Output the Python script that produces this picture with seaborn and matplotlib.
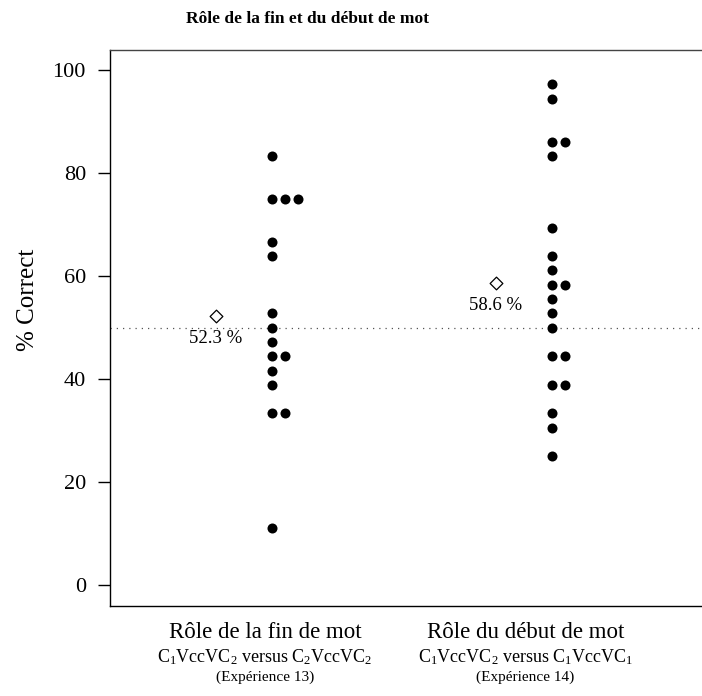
import numpy as np
import pandas as pd
import matplotlib
matplotlib.use("Agg")
import matplotlib.pyplot as plt
import seaborn as sns

# ---- data ----
group_names = ["fin", "debut"]
group_positions = [1.0, 2.0]
fin_values = [83.33, 75.0, 75.0, 75.0, 66.67, 63.89, 52.78, 50.0, 47.22,
              44.44, 44.44, 41.67, 38.89, 33.33, 33.33, 11.11]
debut_values = [97.22, 94.44, 86.11, 86.11, 83.33, 69.44, 63.89, 61.11, 58.33,
                58.33, 55.56, 52.78, 50.0, 44.44, 44.44, 38.89, 38.89, 33.33,
                30.56, 25.0]
cat_line1 = ["Rôle de la fin de mot", "Rôle du début de mot"]
cat_line2 = [r"$\mathrm{C_1VccVC_2}$ versus $\mathrm{C_2VccVC_2}$",
             r"$\mathrm{C_1VccVC_2}$ versus $\mathrm{C_1VccVC_1}$"]
cat_line3 = ["(Expérience 13)", "(Expérience 14)"]
y_ticks = [0, 20, 40, 60, 80, 100]
title = "Rôle de la fin et du début de mot"
y_label = "% Correct"
chance = 50

# ---- style ----
sns.set_style("ticks")
plt.rcParams["font.family"] = ["Liberation Serif", "DejaVu Serif"]
plt.rcParams["mathtext.fontset"] = "custom"
plt.rcParams["mathtext.rm"] = "Liberation Serif"
plt.rcParams["mathtext.it"] = "Liberation Serif:italic"
plt.rcParams["text.color"] = "black"
plt.rcParams["axes.labelcolor"] = "black"

step = 13 / 280.0          # horizontal stacking step for tied values
mean_shift = -0.2          # mean diamond placed left of the column
label_x = [0.975, 1.905]   # category label centres (data units)

rows = []
for name, pos, vals in zip(group_names, group_positions, [fin_values, debut_values]):
    seen = {}
    for v in vals:
        k = seen.get(v, 0)
        seen[v] = k + 1
        rows.append({"group": name, "x": pos + k * step, "y": v})
df = pd.DataFrame(rows)

means = pd.DataFrame({
    "x": [p + mean_shift for p in group_positions],
    "y": [np.mean(fin_values), np.mean(debut_values)],
})

fig = plt.figure(figsize=(7.02, 6.96), dpi=100)
ax = fig.add_axes([0.156, 0.1297, 0.854, 0.7991])

ax.axhline(chance, color="#555555", linestyle=(0, (1, 4)), linewidth=0.9, zorder=1)

sns.scatterplot(data=df, x="x", y="y", ax=ax, color="black", s=52,
                linewidth=0, marker="o", legend=False, zorder=3)
sns.scatterplot(data=means, x="x", y="y", ax=ax, marker="D", s=42,
                facecolor="white", edgecolor="black", linewidth=0.9,
                legend=False, zorder=3)

for _, r in means.iterrows():
    ax.annotate(f"{r['y']:.1f} %", (r["x"], r["y"]), xytext=(0, -16),
                textcoords="offset points", ha="center", va="center",
                fontsize=13.5, color="black")

xmin = 1 - (272 - 109.5) / 280.0
ax.set_xlim(xmin, xmin + 0.854 * 702 / 280.0)
ax.set_ylim(-4, 104)
ax.set_yticks(y_ticks)
ax.set_yticklabels([str(t) for t in y_ticks])
ax.set_xticks([])
ax.set_xlabel("")
ax.set_ylabel("")
ax.tick_params(axis="y", length=8.4, width=1.0, pad=8.6, labelsize=16,
               color="black", labelcolor="black")

for side in ["left", "bottom", "top"]:
    ax.spines[side].set_visible(True)
    ax.spines[side].set_color("black")
    ax.spines[side].set_linewidth(1.0)
ax.spines["top"].set_color("#444444")
ax.spines["right"].set_visible(False)

trans = matplotlib.transforms.blended_transform_factory(ax.transData, ax.transAxes)
for lx, l1, l2, l3 in zip(label_x, cat_line1, cat_line2, cat_line3):
    ax.text(lx, -0.049, l1, transform=trans, ha="center", va="center", fontsize=16.5, color="black")
    ax.text(lx, -0.093, l2, transform=trans, ha="center", va="center", fontsize=13, color="black")
    ax.text(lx, -0.128, l3, transform=trans, ha="center", va="center", fontsize=11, color="black")

ax.text(-0.136, 0.5496, y_label, transform=ax.transAxes, rotation=90,
        ha="center", va="center", fontsize=18, color="black")

fig.text(307 / 702, 1 - 19 / 696, title, ha="center", va="center",
         fontsize=12.5, fontweight="bold", color="black")

fig.savefig("out.png", dpi=100)
